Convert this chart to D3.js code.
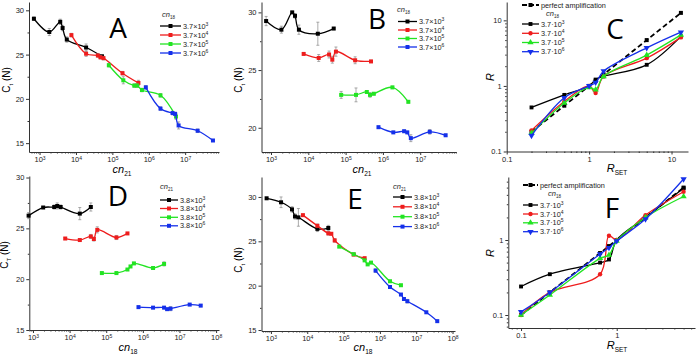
<!DOCTYPE html>
<html>
<head>
<meta charset="utf-8">
<script src="https://cdn.jsdelivr.net/npm/d3@7"></script>
<style>
  body { margin: 0; background: #fff; }
  svg { font-family: "Liberation Sans", Arial, sans-serif; }
  .tick text { font-size: 7.5px; fill: #222; }
  .tick line, .domain { stroke: #333; }
</style>
</head>
<body>
<div id="chart"></div>
<script>
// series colours, same order in every panel
const colors = ["#000000", "#ee1d1d", "#22e422", "#1530ea"];

// legend labels
const cn18Mant = ["3.7", "3.7", "3.7", "3.7"];
const cn21Mant = ["3.8", "3.8", "3.8", "3.8"];
const legendExp = [3, 4, 5, 6];

// A : Ct vs cn21, one series per cn18
const aX = [
  [7e2, 1.85e3, 3.7e3, 4.3e3, 5.6e3, 1.9e4, 5.2e4],
  [7.5e3, 1.9e4, 4e4, 4.7e4, 5.7e4, 1.9e5, 5.2e5],
  [8e4, 2e5, 4e5, 4.8e5, 6.5e5, 2.1e6, 5.6e6],
  [8.3e5, 2.1e6, 4.5e6, 5.3e6, 6.6e6, 2.2e7, 5.8e7]];
const aY = [
  [29.05, 27.55, 28.7, 28.0, 26.7, 25.8, 24.8],
  [27.2, 25.1, 24.9, 24.7, 24.6, 22.9, 21.8],
  [23.8, 22.1, 21.5, 21.5, 21.0, 20.4, 18.0],
  [21.3, 18.9, 18.4, 18.3, 17.0, 16.4, 15.3]];
const aErr = [
  [0.2, 0.4, 0.3, 0.3, 0.3, 0.4, 0.2],
  [0.2, 0.3, 0.2, 0.2, 0.2, 0.2, 0.3],
  [0.2, 0.4, 0.2, 0.2, 0.2, 0.2, 0.3],
  [0.2, 0.2, 0.2, 0.2, 0.4, 0.2, 0.1]];

// B : Ct vs cn21 (second set)
const bX = [
  [7.4e2, 1.9e3, 3.7e3, 4.4e3, 5.6e3, 1.8e4, 4.8e4],
  [7.5e3, 1.9e4, 3.6e4, 4.4e4, 5.5e4, 1.8e5, 4.8e5],
  [7.6e4, 1.9e5, 3.7e5, 4.5e5, 5.7e5, 1.8e6, 4.8e6],
  [7.6e5, 1.9e6, 3.7e6, 4.5e6, 5.6e6, 1.8e7, 4.8e7]];
const bY = [
  [29.25, 28.5, 30.0, 29.7, 28.5, 28.15, 28.6],
  [26.4, 26.05, 26.35, 25.9, 26.6, 25.85, 25.75],
  [22.85, 22.85, 23.1, 22.85, 22.95, 23.5, 22.25],
  [20.05, 19.6, 19.7, 19.6, 19.1, 19.65, 19.35]];
const bErr = [
  [0.4, 0.3, 0.1, 0.2, 0.4, 1.0, 0.1],
  [0.1, 0.3, 0.3, 0.3, 0.4, 0.3, 0.1],
  [0.3, 0.6, 0.1, 0.2, 0.1, 0.1, 0.1],
  [0.1, 0.1, 0.1, 0.1, 0.3, 0.2, 0.1]];

// C : R vs R_SET
const cX = [0.2, 0.5, 1, 1.2, 1.5, 5, 13];
const cPerfect = [0.2, 0.5, 1, 1.2, 1.5, 5, 13];
const cY = [
  [0.47, 0.73, 1.0, 1.25, 1.4, 2.1, 5.7],
  [0.21, 0.58, 1.0, 0.78, 1.4, 2.65, 5.5],
  [0.19, 0.55, 0.95, 0.88, 1.4, 2.95, 6.0],
  [0.175, 0.66, 1.0, 1.13, 1.68, 3.8, 6.6]];

// D : CT vs cn18, one series per cn21
const dX = [
  [7.6e2, 1.9e3, 3.8e3, 4.6e3, 5.7e3, 1.9e4, 3.8e4],
  [7.6e3, 1.9e4, 3.8e4, 4.6e4, 5.7e4, 1.9e5, 3.8e5],
  [7.6e4, 1.9e5, 3.8e5, 4.6e5, 5.7e5, 1.9e6, 3.8e6],
  [7.6e5, 1.9e6, 3.8e6, 4.6e6, 5.7e6, 1.9e7, 3.8e7]];
const dY = [
  [26.25, 27.05, 27.1, 27.2, 27.1, 26.45, 27.1],
  [24.0, 23.85, 24.2, 23.95, 24.85, 24.1, 24.5],
  [20.6, 20.6, 20.95, 21.25, 21.55, 21.1, 21.5],
  [17.25, 17.2, 17.2, 17.05, 17.1, 17.5, 17.4]];
const dErr = [
  [0.3, 0.1, 0.2, 0.3, 0.2, 0.6, 0.4],
  [0.1, 0.1, 0.2, 0.2, 0.3, 0.2, 0.1],
  [0.1, 0.1, 0.1, 0.1, 0.1, 0.1, 0.2],
  [0.1, 0.1, 0.1, 0.1, 0.2, 0.1, 0.1]];

// E : Ct vs cn18
const eX = [
  [7.6e2, 1.9e3, 3.8e3, 4.6e3, 5.7e3, 1.9e4, 3.8e4],
  [7.6e3, 1.9e4, 3.8e4, 4.6e4, 5.7e4, 1.9e5, 3.8e5],
  [7.6e4, 1.9e5, 3.8e5, 4.6e5, 5.7e5, 1.9e6, 3.8e6],
  [7.6e5, 1.9e6, 3.8e6, 4.6e6, 5.7e6, 1.9e7, 3.8e7]];
const eY = [
  [29.85, 29.4, 28.6, 27.8, 27.7, 26.4, 26.5],
  [27.95, 26.75, 25.9, 25.85, 25.1, 23.5, 23.1],
  [24.4, 23.55, 22.85, 22.4, 22.6, 20.5, 20.05],
  [21.7, 19.85, 19.0, 18.5, 18.25, 17.0, 16.0]];
const eErr = [
  [0.1, 0.6, 0.3, 0.3, 1.0, 0.3, 0.3],
  [0.1, 0.2, 0.2, 0.1, 0.2, 0.1, 0.1],
  [0.1, 0.1, 0.1, 0.1, 0.1, 0.1, 0.1],
  [0.2, 0.1, 0.1, 0.1, 0.2, 0.1, 0.1]];

// F : R vs R_SET
const fX = [0.1, 0.2, 0.67, 0.83, 1, 2, 5];
const fPerfect = [0.1, 0.2, 0.67, 0.83, 1, 2, 5];
const fY = [
  [0.24, 0.35, 0.5, 0.55, 1.0, 2.0, 4.9],
  [0.1, 0.2, 0.35, 1.14, 1.0, 2.15, 4.4],
  [0.1, 0.185, 0.57, 0.63, 0.97, 2.0, 3.8],
  [0.11, 0.2, 0.65, 0.79, 0.97, 1.9, 6.5]];

const svg = d3.select("#chart").append("svg")
  .attr("width", 697).attr("height", 355);

function logMinors(dom) {
  const out = [];
  for (let e = Math.floor(Math.log10(dom[0])); e <= Math.ceil(Math.log10(dom[1])); e++)
    for (let m = 2; m <= 9; m++) {
      const v = m * Math.pow(10, e);
      if (v >= dom[0] && v <= dom[1]) out.push(v);
    }
  return out;
}

// text with italic "cn" and a subscript
function cnText(t, sub, size) {
  t.append("tspan").attr("font-style", "italic").text("cn");
  t.append("tspan").attr("font-size", size * 0.6).attr("dy", size * 0.3).text(sub);
}

const squareSym = d3.symbol().type(d3.symbolSquare).size(16);
const rSymbols = [
  d3.symbol().type(d3.symbolSquare).size(15),
  d3.symbol().type(d3.symbolCircle).size(15),
  d3.symbol().type(d3.symbolTriangle).size(17),
  d3.symbol().type(d3.symbolTriangle).size(17)];

function panel(p) {
  const g = svg.append("g");
  const x = d3.scaleLog().domain(p.xDom).range(p.xRange);
  const y = (p.yLog ? d3.scaleLog() : d3.scaleLinear()).domain(p.yDom).range(p.yRange);
  const base = p.yRange[0], left = p.xRange[0];

  // x axis: minor ticks, then majors
  g.append("g").attr("transform", `translate(0,${base})`)
    .call(d3.axisBottom(x).tickValues(logMinors(p.xDom)).tickSize(1.5).tickSizeOuter(0).tickFormat(""))
    .call(a => a.select(".domain").remove());
  const xa = g.append("g").attr("transform", `translate(0,${base})`)
    .call(d3.axisBottom(x).tickValues(p.xTicks).tickSize(3).tickSizeOuter(0).tickPadding(2));
  xa.selectAll(".tick text").each(function (d) {
    const t = d3.select(this).text(null);
    if (p.xSup) {
      t.append("tspan").text("10");
      t.append("tspan").attr("font-size", "5px").attr("dy", "-0.45em").text(Math.round(Math.log10(d)));
    } else t.text(d3.format("~g")(d));
  });

  // y axis
  g.append("g").attr("transform", `translate(${left},0)`)
    .call(d3.axisLeft(y).tickValues(p.yMinor).tickSize(1.5).tickSizeOuter(0).tickFormat(""))
    .call(a => a.select(".domain").remove());
  g.append("g").attr("transform", `translate(${left},0)`)
    .call(d3.axisLeft(y).tickValues(p.yTicks).tickSize(3).tickSizeOuter(0).tickPadding(2)
      .tickFormat(d3.format("~g")));

  // axis titles
  const xt = g.append("text").attr("x", p.xTitle[0]).attr("y", p.xTitle[1])
    .attr("text-anchor", "middle").attr("font-size", 11);
  if (p.xName === "RSET") {
    xt.append("tspan").attr("font-style", "italic").text("R");
    xt.append("tspan").attr("font-size", 6.5).attr("dy", 3).text("SET");
  } else cnText(xt, p.xName, 11);
  const yt = g.append("text")
    .attr("transform", `translate(${p.yTitle[0]},${p.yTitle[1]}) rotate(-90)`)
    .attr("text-anchor", "middle").attr("font-size", 10);
  if (p.yName === "R") yt.append("tspan").attr("font-style", "italic").attr("font-size", 11).text("R");
  else {
    yt.append("tspan").text("C");
    yt.append("tspan").attr("font-size", 6).attr("dy", 2.5).text(p.yName);
    yt.append("tspan").attr("dy", -2.5).text(" (N)");
  }

  // panel letter
  g.append("text").attr("x", p.letterPos[0]).attr("y", p.letterPos[1])
    .attr("text-anchor", "middle").attr("dominant-baseline", "central")
    .attr("font-size", 28).attr("font-family", "'Open Sans', sans-serif").text(p.letter);

  const curve = d3.line().x(d => x(d[0])).y(d => y(d[1])).curve(d3.curveCatmullRom.alpha(0.5));

  // perfect amplification reference
  if (p.perfect) {
    const pts = p.perfect.map(v => [v, v]);
    g.append("path").datum(pts).attr("d", d3.line().x(d => x(d[0])).y(d => y(d[1])))
      .attr("fill", "none").attr("stroke", "#000").attr("stroke-width", 1.8)
      .attr("stroke-dasharray", "5,3");
    g.selectAll(null).data(pts).join("path")
      .attr("transform", d => `translate(${x(d[0])},${y(d[1])})`)
      .attr("d", squareSym).attr("fill", "#000");
  }

  p.ys.forEach((ys, i) => {
    const xs = Array.isArray(p.xs[0]) ? p.xs[i] : p.xs;
    const pts = xs.map((v, j) => [v, ys[j], p.err ? p.err[i][j] : 0]);
    if (p.err) {
      const eb = g.append("g").attr("stroke", "#888").attr("stroke-width", 0.7);
      pts.forEach(d => {
        const cx = x(d[0]), y0 = y(d[1] - d[2]), y1 = y(d[1] + d[2]);
        eb.append("line").attr("x1", cx).attr("x2", cx).attr("y1", y0).attr("y2", y1);
        eb.append("line").attr("x1", cx - 1.5).attr("x2", cx + 1.5).attr("y1", y0).attr("y2", y0);
        eb.append("line").attr("x1", cx - 1.5).attr("x2", cx + 1.5).attr("y1", y1).attr("y2", y1);
      });
    }
    g.append("path").datum(pts).attr("d", curve)
      .attr("fill", "none").attr("stroke", colors[i]).attr("stroke-width", 1.3);
    g.selectAll(null).data(pts).join("path")
      .attr("transform", d => `translate(${x(d[0])},${y(d[1])})` + (p.perfect && i === 3 ? " rotate(180)" : ""))
      .attr("d", p.perfect ? rSymbols[i] : squareSym).attr("fill", colors[i]);
  });

  // legend
  const L = p.legend;
  if (p.perfect) {
    g.append("line").attr("x1", L.x0).attr("x2", L.x1).attr("y1", L.perfectY).attr("y2", L.perfectY)
      .attr("stroke", "#000").attr("stroke-width", 1.8).attr("stroke-dasharray", "5,2");
    g.append("path").attr("transform", `translate(${(L.x0 + L.x1) / 2},${L.perfectY})`)
      .attr("d", squareSym).attr("fill", "#000");
    g.append("text").attr("x", L.x1 + 2).attr("y", L.perfectY).attr("dy", "0.35em")
      .attr("font-size", 7.3).attr("fill", "#222").text("perfect amplification");
  }
  const lt = g.append("text").attr("x", L.titlePos[0]).attr("y", L.titlePos[1])
    .attr("font-size", 7.5).attr("fill", "#222");
  cnText(lt, L.title, 7.5);
  L.ys.forEach((ly, i) => {
    g.append("line").attr("x1", L.x0).attr("x2", L.x1).attr("y1", ly).attr("y2", ly)
      .attr("stroke", colors[i]).attr("stroke-width", 1.3);
    g.append("path").attr("transform", `translate(${(L.x0 + L.x1) / 2},${ly})` + (p.perfect && i === 3 ? " rotate(180)" : ""))
      .attr("d", p.perfect ? rSymbols[i] : squareSym).attr("fill", colors[i]);
    const t = g.append("text").attr("x", L.x1 + 2).attr("y", ly).attr("dy", "0.35em")
      .attr("font-size", 7.3).attr("fill", "#222");
    t.append("tspan").text(L.mant[i] + L.sep + "10");
    t.append("tspan").attr("font-size", 5).attr("dy", -3).text(legendExp[i]);
  });
}

panel({
  letter: "A", letterPos: [118, 27],
  xs: aX, ys: aY, err: aErr,
  xRange: [29, 219], xDom: [513, 8.5e7], xTicks: [1e3, 1e4, 1e5, 1e6, 1e7], xSup: true,
  yRange: [152, 2], yDom: [14, 30.94], yTicks: [15, 20, 25, 30], yMinor: [17.5, 22.5, 27.5],
  xName: "21", xTitle: [122, 173], yName: "t", yTitle: [10, 80],
  legend: { title: "18", titlePos: [162, 17], x0: 160, x1: 181, ys: [26, 35, 44, 53], mant: cn18Mant, sep: "×" }
});

panel({
  letter: "B", letterPos: [377, 18],
  xs: bX, ys: bY, err: bErr,
  xRange: [261.5, 456], xDom: [556, 9.1e7], xTicks: [1e3, 1e4, 1e5, 1e6, 1e7], xSup: true,
  yRange: [152, 2], yDom: [17.9, 30.9], yTicks: [20, 25, 30], yMinor: [22.5, 27.5],
  xName: "21", xTitle: [362, 173], yName: "t", yTitle: [242, 80],
  legend: { title: "18", titlePos: [397, 12], x0: 398, x1: 417, ys: [21.5, 30, 38.5, 47], mant: cn18Mant, sep: "×" }
});

panel({
  letter: "C", letterPos: [615, 28],
  xs: cX, ys: cY, perfect: cPerfect,
  xRange: [506.7, 688], xDom: [0.1, 15.85], xTicks: [0.1, 1, 10], xSup: false,
  yRange: [151.5, 2], yDom: [0.1, 19.05], yTicks: [0.1, 1, 10], yLog: true, yMinor: logMinors([0.1, 19.05]),
  xName: "RSET", xTitle: [617, 172], yName: "R", yTitle: [494, 77],
  legend: { title: "18", titlePos: [546, 16], perfectY: 5, x0: 522, x1: 539, ys: [24, 33.3, 42.5, 51.7], mant: cn18Mant, sep: "·" }
});

panel({
  letter: "D", letterPos: [118, 195],
  xs: dX, ys: dY, err: dErr,
  xRange: [29.3, 219], xDom: [794, 1.2e8], xTicks: [1e3, 1e4, 1e5, 1e6, 1e7, 1e8], xSup: true,
  yRange: [330, 176], yDom: [15, 30.15], yTicks: [15, 20, 25, 30], yMinor: [17.5, 22.5, 27.5],
  xName: "18", xTitle: [128, 351], yName: "T", yTitle: [8, 255],
  legend: { title: "21", titlePos: [160, 189], x0: 160, x1: 178, ys: [200, 208.5, 217.3, 225.8], mant: cn21Mant, sep: "×" }
});

panel({
  letter: "E", letterPos: [355, 198],
  xs: eX, ys: eY, err: eErr,
  xRange: [261.5, 455], xDom: [550, 1.17e8], xTicks: [1e3, 1e4, 1e5, 1e6, 1e7, 1e8], xSup: true,
  yRange: [331, 177], yDom: [14.89, 32.25], yTicks: [15, 20, 25, 30], yMinor: [17.5, 22.5, 27.5],
  xName: "18", xTitle: [363, 351], yName: "t", yTitle: [242, 260],
  legend: { title: "21", titlePos: [393, 189], x0: 393, x1: 412, ys: [197, 206.8, 216.7, 226.6], mant: cn21Mant, sep: "×" }
});

panel({
  letter: "F", letterPos: [612, 207],
  xs: fX, ys: fY, perfect: fPerfect,
  xRange: [508.3, 695], xDom: [0.0736, 6.58], xTicks: [0.1, 1], xSup: false,
  yRange: [328, 177], yDom: [0.0671, 6.92], yTicks: [0.1, 1], yLog: true, yMinor: logMinors([0.0671, 6.92]),
  xName: "RSET", xTitle: [617, 349], yName: "R", yTitle: [494, 253],
  legend: { title: "18", titlePos: [548, 196], perfectY: 185, x0: 523, x1: 538, ys: [205, 214, 222.8, 231.7], mant: cn18Mant, sep: "·" }
});
</script>
</body>
</html>
